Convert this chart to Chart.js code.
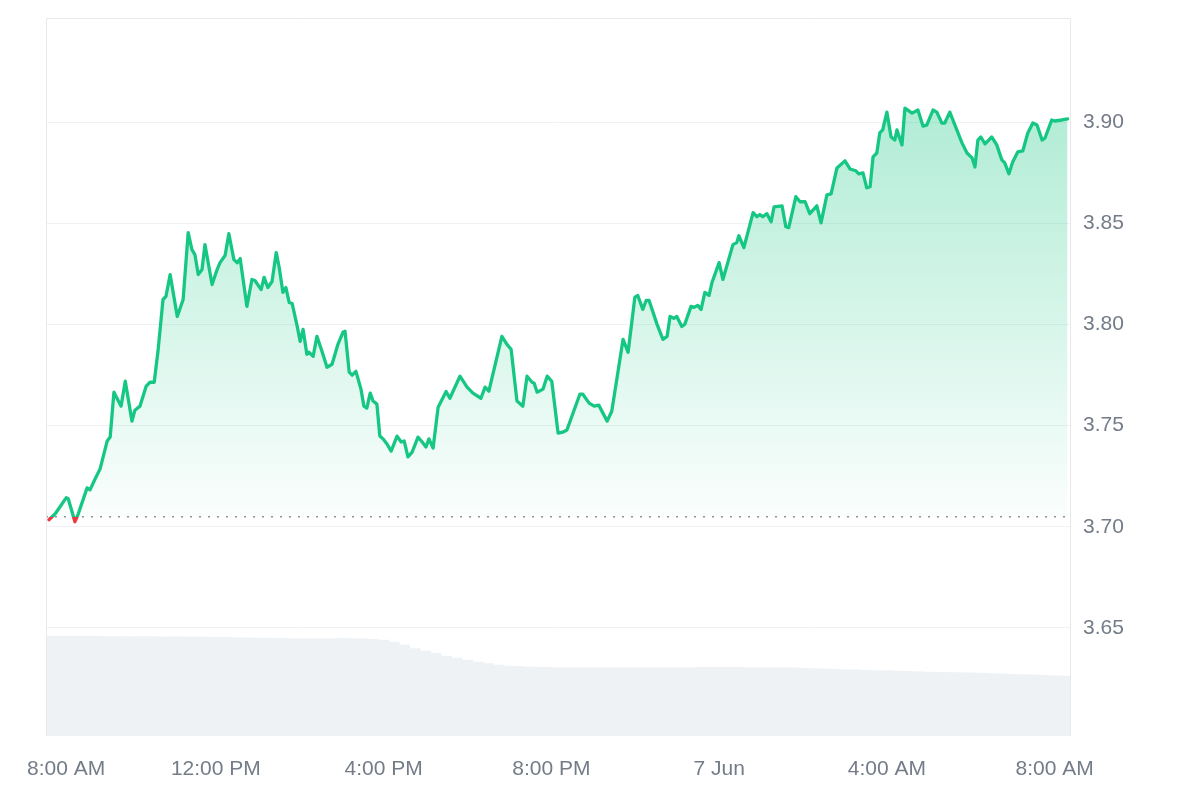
<!DOCTYPE html>
<html>
<head>
<meta charset="utf-8">
<script src="https://cdn.jsdelivr.net/npm/chart.js@4.4.1/dist/chart.umd.min.js"></script>
<style>
  html, body { margin: 0; padding: 0; background: #ffffff; }
  #wrap { width: 1200px; height: 800px; }
</style>
</head>
<body>
<div id="wrap"><canvas id="c" width="1200" height="800"></canvas></div>
<script>
// ---- Data (hours since 8:00 AM, 6 Jun) ----
const priceHours = [0.02,0.17,0.43,0.48,0.64,0.72,0.93,1.00,1.12,1.24,1.41,1.48,1.57,1.74,1.84,2.00,2.07,2.19,2.34,2.43,2.53,2.62,2.74,2.81,2.91,3.08,3.22,3.34,3.43,3.50,3.58,3.67,3.74,3.91,4.03,4.10,4.22,4.31,4.43,4.51,4.58,4.74,4.86,4.93,5.08,5.15,5.24,5.34,5.44,5.51,5.60,5.67,5.75,5.82,5.94,6.01,6.08,6.17,6.22,6.32,6.41,6.53,6.65,6.77,6.91,7.03,7.08,7.18,7.25,7.34,7.46,7.53,7.60,7.68,7.75,7.84,7.91,7.99,8.08,8.18,8.32,8.42,8.49,8.58,8.68,8.82,8.92,9.01,9.08,9.18,9.30,9.49,9.58,9.82,9.99,10.13,10.32,10.42,10.51,10.82,10.94,11.04,11.18,11.32,11.42,11.54,11.59,11.66,11.80,11.90,12.01,12.16,12.28,12.37,12.68,12.75,12.90,13.02,13.13,13.33,13.44,13.71,13.83,13.99,14.06,14.18,14.26,14.33,14.52,14.66,14.76,14.83,14.92,14.99,15.11,15.18,15.33,15.40,15.49,15.57,15.66,15.76,15.83,16.00,16.09,16.33,16.42,16.47,16.59,16.81,16.90,16.97,17.04,17.14,17.24,17.31,17.50,17.59,17.66,17.83,17.93,18.05,18.16,18.33,18.43,18.57,18.67,18.81,19.00,19.12,19.26,19.33,19.43,19.52,19.60,19.67,19.76,19.83,19.90,20.00,20.10,20.19,20.24,20.36,20.43,20.60,20.74,20.86,20.95,21.10,21.19,21.31,21.38,21.50,21.79,21.91,22.03,22.10,22.17,22.24,22.34,22.50,22.62,22.74,22.81,22.91,23.00,23.12,23.24,23.36,23.48,23.58,23.70,23.77,23.93,24.00,24.17,24.31];
const priceValues = [3.7035,3.7064,3.7143,3.7138,3.7025,3.7064,3.7192,3.7182,3.7236,3.7286,3.7424,3.7443,3.7665,3.7596,3.7719,3.7522,3.7576,3.7596,3.7695,3.7714,3.7714,3.7867,3.8123,3.8138,3.8246,3.8039,3.8123,3.8453,3.8369,3.8345,3.8246,3.8271,3.8394,3.8197,3.8271,3.8305,3.8340,3.8448,3.8320,3.8305,3.8325,3.8089,3.8222,3.8217,3.8172,3.8232,3.8182,3.8212,3.8355,3.8281,3.8158,3.8182,3.8108,3.8103,3.7990,3.7916,3.7975,3.7852,3.7862,3.7842,3.7941,3.7867,3.7788,3.7803,3.7901,3.7961,3.7966,3.7764,3.7749,3.7768,3.7680,3.7596,3.7586,3.7660,3.7621,3.7606,3.7448,3.7434,3.7409,3.7374,3.7448,3.7419,3.7424,3.7345,3.7369,3.7443,3.7419,3.7394,3.7434,3.7389,3.7591,3.7668,3.7635,3.7744,3.7690,3.7660,3.7635,3.7690,3.7670,3.7941,3.7901,3.7877,3.7621,3.7596,3.7744,3.7714,3.7709,3.7665,3.7680,3.7744,3.7719,3.7463,3.7468,3.7478,3.7655,3.7655,3.7611,3.7596,3.7601,3.7522,3.7571,3.7926,3.7862,3.8133,3.8143,3.8074,3.8118,3.8118,3.8000,3.7926,3.7941,3.8039,3.8030,3.8039,3.7990,3.8000,3.8089,3.8084,3.8094,3.8074,3.8158,3.8143,3.8207,3.8305,3.8222,3.8394,3.8404,3.8438,3.8379,3.8552,3.8532,3.8542,3.8532,3.8547,3.8507,3.8581,3.8586,3.8483,3.8478,3.8631,3.8606,3.8606,3.8547,3.8586,3.8502,3.8640,3.8645,3.8773,3.8808,3.8768,3.8759,3.8744,3.8749,3.8675,3.8680,3.8828,3.8847,3.8946,3.8961,3.9049,3.8926,3.8911,3.8961,3.8887,3.9069,3.9044,3.9059,3.8980,3.8985,3.9059,3.9049,3.8995,3.8995,3.9049,3.8897,3.8847,3.8823,3.8778,3.8911,3.8926,3.8892,3.8926,3.8887,3.8813,3.8798,3.8744,3.8803,3.8852,3.8857,3.8946,3.8995,3.8985,3.8911,3.8921,3.9010,3.9005,3.9010,3.9015];

// volume, every 15 minutes (relative units on a hidden axis)
const volumeHours = [0,0.25,0.5,0.75,1,1.25,1.5,1.75,2,2.25,2.5,2.75,3,3.25,3.5,3.75,4,4.25,4.5,4.75,5,5.25,5.5,5.75,6,6.25,6.5,6.75,7,7.25,7.5,7.75,8,8.25,8.5,8.75,9,9.25,9.5,9.75,10,10.25,10.5,10.75,11,11.25,11.5,11.75,12,12.25,12.5,12.75,13,13.25,13.5,13.75,14,14.25,14.5,14.75,15,15.25,15.5,15.75,16,16.25,16.5,16.75,17,17.25,17.5,17.75,18,18.25,18.5,18.75,19,19.25,19.5,19.75,20,20.25,20.5,20.75,21,21.25,21.5,21.75,22,22.25,22.5,22.75,23,23.25,23.5,23.75,24,24.25];
const volumeValues = [13.93,13.92,13.9,13.9,13.9,13.88,13.85,13.85,13.85,13.84,13.83,13.82,13.8,13.8,13.8,13.78,13.75,13.73,13.7,13.68,13.65,13.63,13.6,13.58,13.55,13.55,13.55,13.58,13.6,13.58,13.55,13.48,13.37,13.09,12.67,12.19,11.84,11.49,11.14,10.86,10.58,10.31,10.1,9.89,9.75,9.68,9.61,9.57,9.54,9.52,9.5,9.5,9.5,9.5,9.5,9.5,9.5,9.5,9.5,9.5,9.5,9.52,9.55,9.55,9.55,9.55,9.55,9.52,9.5,9.5,9.5,9.48,9.45,9.4,9.35,9.3,9.25,9.2,9.15,9.12,9.1,9.05,9.0,8.95,8.9,8.87,8.85,8.82,8.8,8.75,8.7,8.65,8.6,8.55,8.5,8.45,8.4,8.35];

const baselinePrice = 3.7049;
const xTickHours = [0,4,8,12,16,20,24];
const xTickLabels = ['8:00 AM','12:00 PM','4:00 PM','8:00 PM','7 Jun','4:00 AM','8:00 AM'];
const yTicks = [3.65,3.70,3.75,3.80,3.85,3.90];

// ---- Styles ----
const GREEN = 'rgb(22,199,132)';
const RED = 'rgb(234,57,67)';
const TEXT = '#747c88';
const GRID = '#eff1f4';
const FONT = { family: "'Liberation Sans', Arial, Helvetica, sans-serif", size: 21 };

function lineGradient(ctx) {
  const chart = ctx.chart;
  const area = chart.chartArea;
  if (!area) return GREEN;
  const yb = chart.scales.y.getPixelForValue(baselinePrice);
  let f = (yb - area.top) / (area.bottom - area.top);
  f = Math.min(Math.max(f, 0), 1);
  const g = chart.ctx.createLinearGradient(0, area.top, 0, area.bottom);
  g.addColorStop(0, GREEN);
  g.addColorStop(f, GREEN);
  g.addColorStop(Math.min(f + 0.0001, 1), RED);
  g.addColorStop(1, RED);
  return g;
}
function fillGradient(ctx) {
  const chart = ctx.chart;
  const area = chart.chartArea;
  if (!area) return 'rgba(22,199,132,0.15)';
  const yb = chart.scales.y.getPixelForValue(baselinePrice);
  const top = chart.scales.y.getPixelForValue(3.91);
  const g = chart.ctx.createLinearGradient(0, top, 0, yb);
  g.addColorStop(0, 'rgba(22,199,132,0.34)');
  g.addColorStop(1, 'rgba(22,199,132,0.02)');
  return g;
}

const framePlugin = {
  id: 'frame',
  afterDraw(chart) {
    const { ctx, chartArea: a } = chart;
    ctx.save();
    ctx.strokeStyle = '#e6e8eb';
    ctx.lineWidth = 1;
    ctx.beginPath();
    ctx.moveTo(a.left + 0.5, a.bottom);
    ctx.lineTo(a.left + 0.5, a.top + 0.5);
    ctx.lineTo(a.right - 0.5, a.top + 0.5);
    ctx.lineTo(a.right - 0.5, a.bottom);
    ctx.stroke();
    ctx.restore();
  }
};
const firstLabelPlugin = {
  id: 'firstLabel',
  beforeDraw(chart) {
    const s = chart.scales.x;
    if (!s || !s.getLabelItems) return;
    const items = s.getLabelItems();
    if (items && items.length && !items._shifted) {
      const it = items[0];
      const t = (it.options && it.options.translation) || it.translation;
      if (t) t[0] += 18;
      items._shifted = true;
    }
  }
};

new Chart(document.getElementById('c'), {
  data: {
    datasets: [
      {
        type: 'line',
        label: 'Price',
        data: priceHours.map((h, i) => ({ x: h, y: priceValues[i] })),
        borderColor: lineGradient,
        backgroundColor: fillGradient,
        borderWidth: 3.3,
        pointRadius: 0,
        tension: 0,
        borderJoinStyle: 'round',
        borderCapStyle: 'round',
        fill: { target: { value: baselinePrice }, below: 'rgba(0,0,0,0)' },
        yAxisID: 'y',
        order: 1
      },
      {
        type: 'line',
        label: 'Baseline',
        data: [{ x: -0.05, y: baselinePrice }, { x: 24.39, y: baselinePrice }],
        borderColor: '#8e949c',
        borderWidth: 1.5,
        borderDash: [2, 7],
        pointRadius: 0,
        fill: false,
        yAxisID: 'y',
        order: 2
      },
      {
        type: 'bar',
        label: 'Volume',
        data: volumeHours.map((h, i) => ({ x: h, y: volumeValues[i] })),
        backgroundColor: '#eff2f5',
        borderWidth: 0,
        barPercentage: 1.0,
        categoryPercentage: 1.0,
        yAxisID: 'yv',
        order: 3
      }
    ]
  },
  options: {
    responsive: false,
    animation: false,
    devicePixelRatio: 1,
    layout: { padding: { left: 46, top: 18, right: 0, bottom: 0 } },
    plugins: { legend: { display: false }, tooltip: { enabled: false } },
    scales: {
      x: {
        type: 'linear',
        offset: false,
        min: -0.05,
        max: 24.39,
        grid: { display: false, drawTicks: false, offset: false },
        border: { display: false },
        afterBuildTicks(scale) {
          scale.ticks = xTickHours.map(v => ({ value: v }));
        },
        afterFit(scale) {
          scale.height = 64;
          scale.paddingLeft = 0;
          scale.paddingRight = 0;
        },
        ticks: {
          autoSkip: false,
          maxRotation: 0,
          padding: 21,
          color: TEXT,
          font: FONT,
          callback(value) {
            const i = xTickHours.indexOf(value);
            return i >= 0 ? xTickLabels[i] : '';
          }
        }
      },
      y: {
        type: 'linear',
        position: 'right',
        min: 3.5966,
        max: 3.9514,
        grid: { color: GRID, drawTicks: false, lineWidth: 1 },
        border: { display: false },
        afterBuildTicks(scale) {
          scale.ticks = yTicks.map(v => ({ value: v }));
        },
        afterFit(scale) {
          scale.width = 129;
          scale.paddingTop = 0;
          scale.paddingBottom = 0;
        },
        ticks: {
          padding: 12,
          color: TEXT,
          font: FONT,
          callback(value) { return Number(value).toFixed(2); }
        }
      },
      yv: {
        type: 'linear',
        display: false,
        min: 0,
        max: 100
      }
    }
  },
  plugins: [framePlugin, firstLabelPlugin]
});
</script>
</body>
</html>
